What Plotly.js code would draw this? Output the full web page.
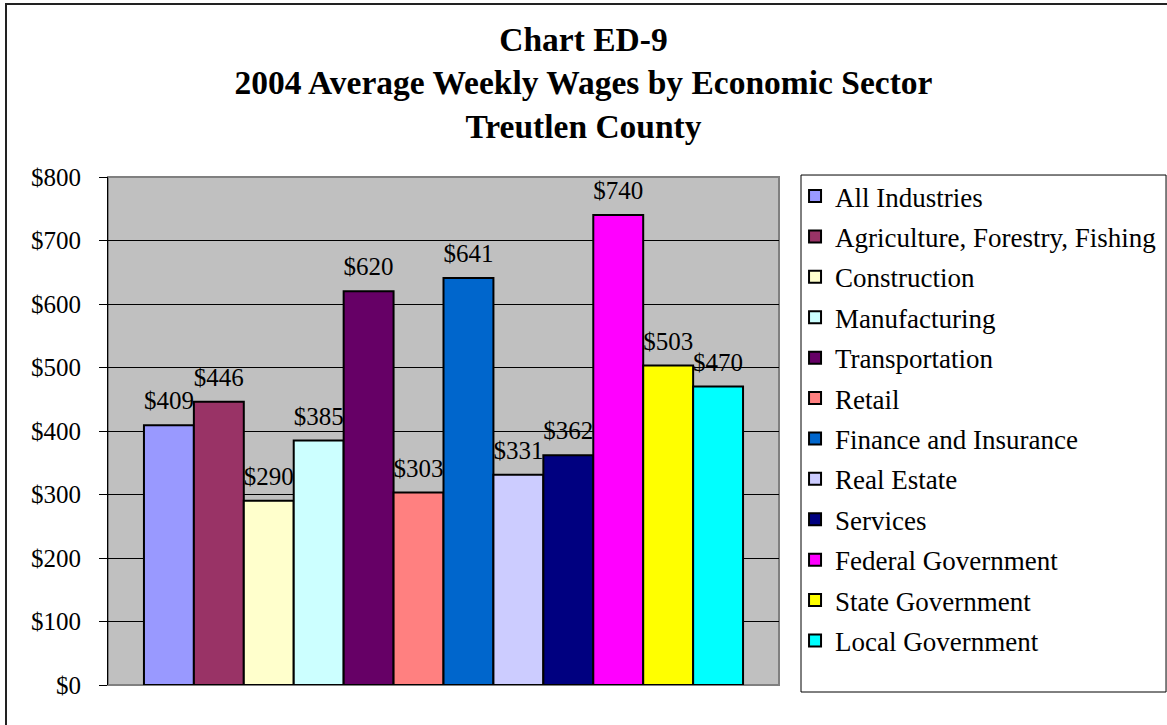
<!DOCTYPE html>
<html>
<head>
<meta charset="utf-8">
<script src="https://cdn.plot.ly/plotly-3.0.1.min.js"></script>
<style>
  html, body { margin: 0; padding: 0; background: #fff; }
  #wrap { position: relative; width: 1167px; height: 725px; overflow: hidden; }
  #chart { width: 1167px; height: 725px; }
  #frame { position: absolute; left: 5px; top: 3px; width: 1300px; height: 900px;
           border-left: 2px solid #222; border-top: 2px solid #222; pointer-events: none; }
</style>
</head>
<body>
<div id="wrap">
  <div id="chart"></div>
  <div id="frame"></div>
</div>
<script>
const sectors = [
  "All Industries",
  "Agriculture, Forestry, Fishing",
  "Construction",
  "Manufacturing",
  "Transportation",
  "Retail",
  "Finance and Insurance",
  "Real Estate",
  "Services",
  "Federal Government",
  "State Government",
  "Local Government"
];
const wages = [409, 446, 290, 385, 620, 303, 641, 331, 362, 740, 503, 470];
const colors = ["#9999FF", "#993366", "#FFFFCC", "#CCFFFF", "#660066", "#FF8080",
                "#0066CC", "#CCCCFF", "#000080", "#FF00FF", "#FFFF00", "#00FFFF"];
const wageLabels = wages.map(v => "$" + v);
const yTicks = [0, 100, 200, 300, 400, 500, 600, 700, 800];
const yTickText = yTicks.map(v => "$" + v);

const serif = "Liberation Serif";

const barTraces = sectors.map((name, i) => ({
  type: "bar",
  name: name,
  legendgroup: "g" + i,
  x: [name],
  y: [wages[i]],
  marker: { color: colors[i], line: { color: "#000", width: 2 } },
  hoverinfo: "name+y"
}));

const labelTrace = {
  type: "scatter",
  mode: "markers+text",
  x: sectors,
  y: wages,
  text: wageLabels,
  textposition: "top center",
  textfont: { family: serif, size: 25, color: "#000" },
  marker: { size: 14, opacity: 0 },
  cliponaxis: false,
  showlegend: false,
  hoverinfo: "skip"
};

const layout = {
  width: 1167,
  height: 725,
  paper_bgcolor: "rgba(0,0,0,0)",
  plot_bgcolor: "#C0C0C0",
  margin: { l: 108, r: 388, t: 177, b: 40, pad: 0, autoexpand: false },
  barmode: "overlay",
  bargap: 0,
  title: {
    text: "<b>Chart ED-9<br>2004 Average Weekly Wages by Economic Sector<br>Treutlen County</b>",
    font: { family: serif, size: 33.5, color: "#000" },
    x: 0.5, xref: "container", xanchor: "center",
    y: 0.93, yref: "container", yanchor: "top"
  },
  xaxis: {
    type: "category",
    categoryorder: "array",
    categoryarray: sectors,
    range: [-1.22, sectors.length - 1 + 1.22],
    showticklabels: false,
    ticks: "",
    showgrid: false,
    showline: false,
    zeroline: false,
    fixedrange: true
  },
  yaxis: {
    range: [0, 800],
    tickmode: "array",
    tickvals: yTicks,
    ticktext: yTickText,
    tickfont: { family: serif, size: 25, color: "#000" },
    ticks: "outside",
    ticklen: 8,
    tickwidth: 1,
    tickcolor: "#000",
    ticklabelstandoff: 13,
    showline: true,
    linecolor: "#000",
    linewidth: 1,
    showgrid: true,
    gridcolor: "#000",
    gridwidth: 1,
    zeroline: false,
    fixedrange: true
  },
  shapes: [
    {
      type: "rect", xref: "paper", yref: "paper",
      x0: 0, x1: 1, y0: 0, y1: 1,
      line: { color: "#808080", width: 2 },
      layer: "below"
    },
    {
      type: "rect", xref: "paper", yref: "paper",
      x0: 1.0328, x1: 1.5768, y0: -0.0138, y1: 1.0039,
      line: { color: "#000", width: 1 },
      fillcolor: "#fff",
      layer: "below"
    }
  ],
  showlegend: true,
  legend: {
    x: 1.0239, xanchor: "left",
    y: 1.0098, yanchor: "top",
    maxheight: 700,
    bgcolor: "rgba(0,0,0,0)",
    borderwidth: 0,
    font: { family: serif, size: 27, color: "#000" },
    traceorder: "grouped",
    tracegroupgap: 2.3,
    itemsizing: "constant"
  }
};

Plotly.newPlot("chart", barTraces.concat([labelTrace]), layout, { displayModeBar: false, staticPlot: true });
</script>
</body>
</html>
